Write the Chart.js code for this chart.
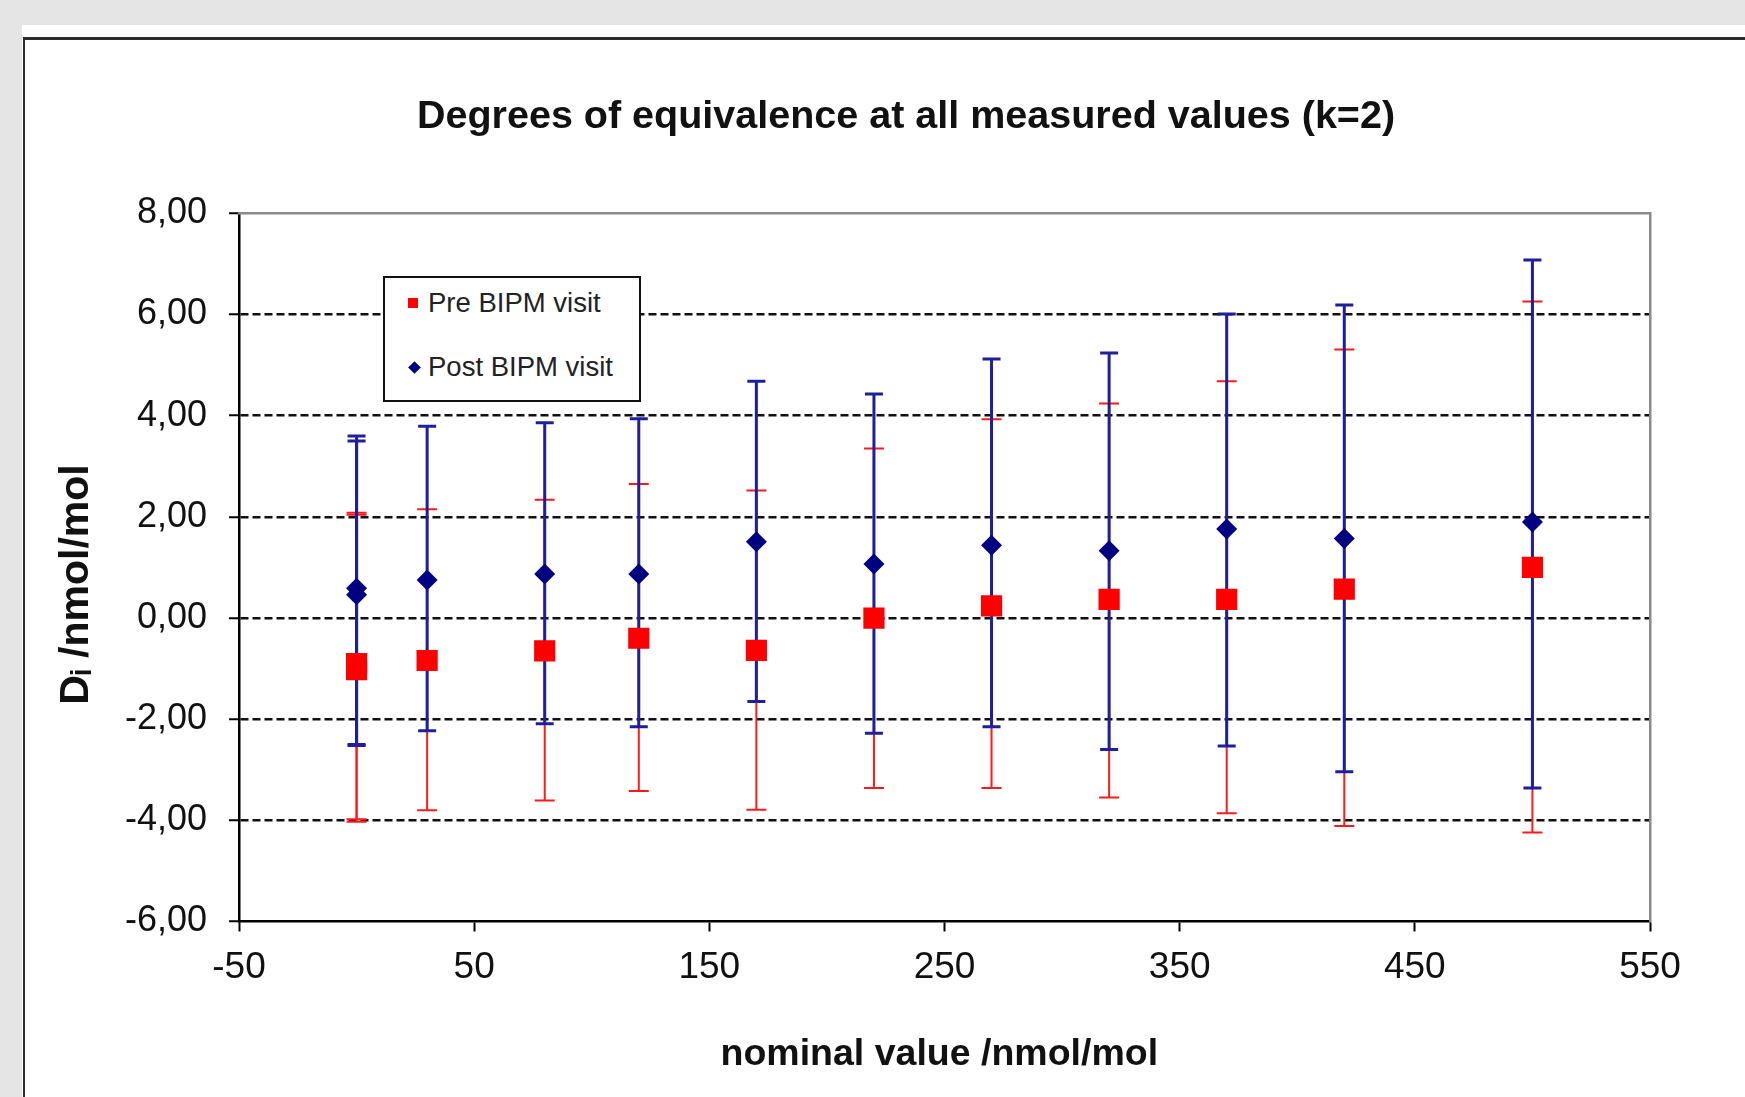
<!DOCTYPE html>
<html lang="en">
<head>
    <meta charset="UTF-8">
    <title>Degrees of equivalence at all measured values</title>
    <style>
        html, body {
            margin: 0;
            padding: 0;
            overflow: hidden;
        }

        body {
            position: relative;
            width: 1745px;
            height: 1097px;
            background-color: #e5e5e5;
            font-family: "Liberation Sans", Arial, sans-serif;
        }

        #panel {
            position: absolute;
            left: 22px;
            top: 25px;
            right: 0;
            bottom: 0;
            background-color: white;
        }

        #frame {
            position: absolute;
            left: 23px;
            top: 37px;
            width: 1800px;
            height: 1100px;
            border-top: 3px solid #2b2b2b;
            border-left: 2px solid #2b2b2b;
        }

        #chartCanvas {
            position: absolute;
            left: 0;
            top: 0;
        }

        #legendBox {
            position: absolute;
            left: 383px;
            top: 276px;
            width: 254px;
            height: 122px;
            background-color: white;
            border: 2px solid #111;
        }

        .legendRow {
            position: absolute;
            left: 0;
            height: 40px;
            line-height: 40px;
            font-size: 27.5px;
            color: #222;
            white-space: nowrap;
        }

        .legendRow .mark {
            position: absolute;
            top: 15px;
            width: 10px;
            height: 10px;
        }

        .legendRow .label {
            position: absolute;
            left: 43px;
        }
    </style>
</head>
<body>
    <div id="panel"></div>
    <div id="frame"></div>
    <canvas id="chartCanvas" width="1800" height="1097"></canvas>
    <div id="legendBox"></div>

    <script src="https://cdn.jsdelivr.net/npm/chart.js"></script>
    <script>
        // nominal values (nmol/mol), two measurements at 0
        const nominal = [0, 0, 30, 80, 120, 170, 220, 270, 320, 370, 420, 500];

        // Pre BIPM visit: D_i and ends of the k=2 bars
        const preValues = [-0.90, -1.02, -0.84, -0.65, -0.40, -0.64, 0.00, 0.24, 0.37, 0.37, 0.57, 1.00];
        const preUpper = [2.08, 2.04, 2.15, 2.34, 2.65, 2.52, 3.35, 3.93, 4.24, 4.68, 5.31, 6.26];
        const preLower = [-3.98, -4.03, -3.80, -3.61, -3.42, -3.79, -3.36, -3.36, -3.55, -3.86, -4.11, -4.24];

        // Post BIPM visit
        const postValues = [0.59, 0.46, 0.75, 0.87, 0.87, 1.51, 1.07, 1.44, 1.33, 1.76, 1.57, 1.90];
        const postUpper = [3.60, 3.50, 3.79, 3.86, 3.94, 4.68, 4.43, 5.12, 5.24, 6.01, 6.19, 7.08];
        const postLower = [-2.50, -2.52, -2.23, -2.09, -2.15, -1.65, -2.28, -2.15, -2.60, -2.53, -3.04, -3.36];

        const seriesNames = ['Pre BIPM visit', 'Post BIPM visit'];
        const xTicks = [-50, 50, 150, 250, 350, 450, 550];
        const yTicks = [-6, -4, -2, 0, 2, 4, 6, 8];

        const fontFamily = '"Liberation Sans", Arial, sans-serif';

        // draws the vertical bars with end caps, before the markers
        const errorBarPlugin = {
            id: 'errorBars',
            beforeDatasetsDraw(chart) {
                const ctx = chart.ctx;
                const xs = chart.scales.x;
                const ys = chart.scales.y;
                chart.data.datasets.forEach(ds => {
                    ctx.save();
                    ctx.strokeStyle = ds.errorColor;
                    ctx.lineWidth = ds.errorWidth;
                    ds.data.forEach((p, i) => {
                        const px = xs.getPixelForValue(p.x);
                        const top = ys.getPixelForValue(ds.errorHigh[i]);
                        const bot = ys.getPixelForValue(ds.errorLow[i]);
                        const half = ds.capHalf;
                        ctx.beginPath();
                        ctx.moveTo(px, top);
                        ctx.lineTo(px, bot);
                        ctx.moveTo(px - half, top);
                        ctx.lineTo(px + half, top);
                        ctx.moveTo(px - half, bot);
                        ctx.lineTo(px + half, bot);
                        ctx.stroke();
                    });
                    ctx.restore();
                });
            }
        };

        const ctx = document.getElementById('chartCanvas').getContext('2d');
        const chart = new Chart(ctx, {
            type: 'scatter',
            data: {
                datasets: [
                    {
                        label: seriesNames[0],
                        data: nominal.map((x, i) => ({ x: x, y: preValues[i] })),
                        pointStyle: 'rect',
                        pointRadius: 15,
                        backgroundColor: '#ff0000',
                        borderWidth: 0,
                        errorHigh: preUpper,
                        errorLow: preLower,
                        errorColor: '#ff1a1a',
                        errorWidth: 2,
                        capHalf: 10
                    },
                    {
                        label: seriesNames[1],
                        data: nominal.map((x, i) => ({ x: x, y: postValues[i] })),
                        pointStyle: 'rectRot',
                        pointRadius: 10.5,
                        backgroundColor: '#000080',
                        borderWidth: 0,
                        errorHigh: postUpper,
                        errorLow: postLower,
                        errorColor: '#1f1f9c',
                        errorWidth: 3,
                        capHalf: 9
                    }
                ]
            },
            options: {
                responsive: false,
                animation: false,
                events: [],
                layout: {
                    padding: { left: 30, right: 18, top: 0, bottom: 0 }
                },
                plugins: {
                    legend: { display: false },
                    tooltip: { enabled: false },
                    title: {
                        display: true,
                        text: 'Degrees of equivalence at all measured values (k=2)',
                        color: '#111',
                        font: { family: fontFamily, size: 39.5, weight: 'bold' },
                        padding: { top: 93, bottom: 73 }
                    }
                },
                scales: {
                    x: {
                        type: 'linear',
                        position: 'bottom',
                        min: -50,
                        max: 550,
                        afterBuildTicks: scale => { scale.ticks = xTicks.map(v => ({ value: v })); },
                        afterFit: scale => { scale.height = 175.5; },
                        grid: {
                            display: true,
                            drawOnChartArea: false,
                            drawTicks: true,
                            tickLength: 10,
                            tickColor: '#000',
                            tickWidth: 2
                        },
                        border: { display: true, color: '#000', width: 2.5 },
                        ticks: {
                            color: '#111',
                            font: { family: fontFamily, size: 37 },
                            padding: 14,
                            maxRotation: 0,
                            autoSkip: false
                        },
                        title: {
                            display: true,
                            text: 'nominal value /nmol/mol\u00A0',
                            color: '#111',
                            font: { family: fontFamily, size: 37.5, weight: 'bold' },
                            padding: { top: 0, bottom: 20 }
                        }
                    },
                    y: {
                        type: 'linear',
                        position: 'left',
                        min: -6,
                        max: 8,
                        afterBuildTicks: scale => { scale.ticks = yTicks.map(v => ({ value: v })); },
                        afterFit: scale => { scale.width = 209; },
                        grid: {
                            color: c => (c.tick && (c.tick.value === 8 || c.tick.value === -6)) ? 'rgba(0,0,0,0)' : '#111',
                            lineWidth: 2.5,
                            drawTicks: true,
                            tickLength: 10,
                            tickColor: '#000',
                            tickWidth: 2,
                            tickBorderDash: []
                        },
                        border: { display: true, color: '#000', width: 2.5, dash: [8, 4] },
                        ticks: {
                            color: '#111',
                            font: { family: fontFamily, size: 36 },
                            padding: 22,
                            callback: v => v.toFixed(2).replace('.', ',')
                        },
                        title: {
                            display: true,
                            text: 'D\u1D62 /nmol/mol\u00A0\u00A0\u00A0',
                            color: '#111',
                            font: { family: fontFamily, size: 41, weight: 'bold' },
                            padding: { top: 22, bottom: 0 }
                        }
                    },
                    // grey frame lines at the top and right of the plot area
                    xTop: {
                        type: 'linear',
                        position: 'top',
                        min: 0,
                        max: 1,
                        afterFit: scale => { scale.height = 0; },
                        grid: { display: false },
                        ticks: { display: false },
                        border: { display: true, color: '#8a8a8a', width: 2.5 }
                    },
                    yRight: {
                        type: 'linear',
                        position: 'right',
                        min: 0,
                        max: 1,
                        afterFit: scale => { scale.width = 132; },
                        grid: { display: false },
                        ticks: { display: false },
                        border: { display: true, color: '#8a8a8a', width: 2.5 }
                    }
                }
            },
            plugins: [errorBarPlugin]
        });

        // legend box with the dataset labels
        const legendBox = document.getElementById('legendBox');
        chart.data.datasets.forEach((ds, i) => {
            const row = document.createElement('div');
            row.className = 'legendRow';
            row.style.top = (5 + i * 64) + 'px';
            const mark = document.createElement('span');
            mark.className = 'mark';
            mark.style.backgroundColor = ds.backgroundColor;
            if (ds.pointStyle === 'rectRot') {
                mark.style.left = '25px';
                mark.style.width = '9px';
                mark.style.height = '9px';
                mark.style.top = '15.5px';
                mark.style.transform = 'rotate(45deg)';
            } else {
                mark.style.left = '23px';
            }
            const label = document.createElement('span');
            label.className = 'label';
            label.textContent = ds.label;
            row.appendChild(mark);
            row.appendChild(label);
            legendBox.appendChild(row);
        });
    </script>
</body>
</html>
